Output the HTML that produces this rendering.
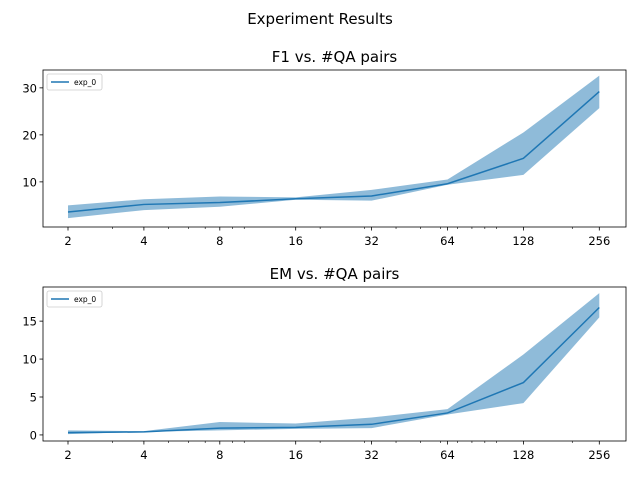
<!DOCTYPE html>
<html><head><meta charset="utf-8"><style>body{margin:0;background:#fff}svg{display:block;font-family:"DejaVu Sans","Liberation Sans",sans-serif}</style></head>
<body>
<svg id="chart" width="640" height="480">
<text x="320" y="24" text-anchor="middle" font-size="15">Experiment Results</text>
</svg>
<script>
const xCats=[2,4,8,16,32,64,128,256];
const f1Mean=[3.6,5.2,5.6,6.4,7.0,9.6,15.0,29.2];
const f1Lo=[2.3,4.0,4.7,6.2,6.0,9.4,11.5,25.7];
const f1Hi=[5.0,6.3,6.9,6.7,8.3,10.5,20.5,32.6];
const emMean=[0.3,0.4,0.9,1.0,1.4,2.9,6.9,16.8];
const emLo=[0.1,0.4,0.6,0.8,0.9,2.7,4.2,15.5];
const emHi=[0.6,0.5,1.7,1.5,2.3,3.4,10.6,18.7];
const f1Ticks=[10,20,30];
const emTicks=[0,5,10,15];
const minorTicks=[3,5,6,7,9,10,20,30,40,50,60,70,80,90,100,200];
const svg=document.getElementById('chart');
const NS='http://www.w3.org/2000/svg';
function mk(t,a,p){const e=document.createElementNS(NS,t);for(const k in a)e.setAttribute(k,a[k]);(p||svg).appendChild(e);return e;}
function panel(name,title,top,bot,ymin,ymax,mean,lo,hi,ticks){
  const L=43,R=626;
  const x=v=>68+(Math.log2(v)-1)*75.9;
  const y=v=>bot-(v-ymin)/(ymax-ymin)*(bot-top);
  const g=mk('g',{});
  
  
  const t=mk('text',{x:(L+R)/2,y:top-8,'text-anchor':'middle','font-size':15},g);t.textContent=title;
  
  
  let d='';xCats.forEach((c,i)=>d+=(i?'L':'M')+x(c)+' '+y(hi[i]));
  for(let i=xCats.length-1;i>=0;i--)d+='L'+x(xCats[i])+' '+y(lo[i]);
  const band=mk('path',{d:d+'Z',fill:'#1f77b4','fill-opacity':0.5},g);
  
  
  let ld='';xCats.forEach((c,i)=>ld+=(i?'L':'M')+x(c)+' '+y(mean[i]));
  const line=mk('path',{d:ld,fill:'none',stroke:'#1f77b4','stroke-width':1.5},g);
  
  
  const fr=mk('rect',{x:L,y:top,width:R-L,height:bot-top,fill:'none',stroke:'#000','stroke-width':0.8},g);
  
  
  xCats.forEach(c=>{mk('line',{x1:x(c),x2:x(c),y1:bot,y2:bot+3.5,stroke:'#000','stroke-width':0.8},g);
    const tl=mk('text',{x:x(c),y:bot+18,'text-anchor':'middle','font-size':11.5},g);tl.textContent=c;
    
    });
  minorTicks.forEach(c=>{if(x(c)<R)mk('line',{x1:x(c),x2:x(c),y1:bot,y2:bot+2,stroke:'#000','stroke-width':0.6},g);});
  ticks.forEach(v=>{mk('line',{x1:L-3.5,x2:L,y1:y(v),y2:y(v),stroke:'#000','stroke-width':0.8},g);
    const tl=mk('text',{x:L-6,y:y(v)+4.5,'text-anchor':'end','font-size':11.5},g);tl.textContent=v;
    
    });
  const lg=mk('g',{},g);
  
  
  mk('rect',{x:47,y:top+4,width:55,height:16,rx:2,fill:'#fff',stroke:'#ccc','stroke-width':0.8},lg);
  mk('line',{x1:51,x2:69,y1:top+12,y2:top+12,stroke:'#1f77b4','stroke-width':1.5},lg);
  const lt=mk('text',{x:74,y:top+15,'font-size':7.5},lg);lt.textContent='exp_0';
}
panel('f1','F1 vs. #QA pairs',70,227,0.4,33.8,f1Mean,f1Lo,f1Hi,f1Ticks);
panel('em','EM vs. #QA pairs',287,441,-0.8,19.5,emMean,emLo,emHi,emTicks);
</script>
</body></html>
